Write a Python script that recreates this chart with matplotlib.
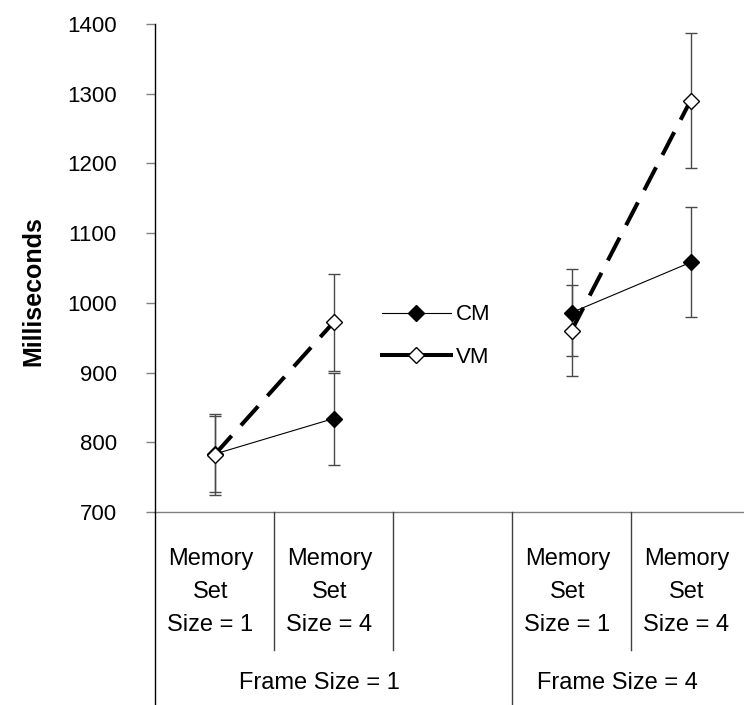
import numpy as np
import matplotlib
matplotlib.use("Agg")
import matplotlib.pyplot as plt
from matplotlib import transforms
from matplotlib.lines import Line2D

plt.rcParams["font.family"] = ["Liberation Sans", "DejaVu Sans"]
plt.rcParams["lines.scale_dashes"] = False

# Condition labels (slot 3 is an empty spacer between the two frame sizes)
categories = ["Memory\nSet\nSize = 1", "Memory\nSet\nSize = 4", "",
              "Memory\nSet\nSize = 1", "Memory\nSet\nSize = 4"]
groups = ["Frame Size = 1", "Frame Size = 4"]
group_spans = [(0, 3), (3, 5)]  # category index ranges covered by each group

# Mean response times (ms) and error bar half-widths
cm_values = [783, 834, np.nan, 986, 1058]
cm_errors = [55, 66, np.nan, 62, 79]
vm_values = [782, 972, np.nan, 960, 1290]
vm_errors = [58, 70, np.nan, 65, 97]

y_ticks = [700, 800, 900, 1000, 1100, 1200, 1300, 1400]

W, H = 744, 705
fig = plt.figure(figsize=(W / 100, H / 100), dpi=100)
ax = fig.add_axes([155 / W, 1 - 512 / H, 589 / W, (512 - 24) / H])

x = np.arange(1, len(categories) + 1)
err_color = "#4a4a4a"

ax.errorbar(x, cm_values, yerr=cm_errors, fmt="none", ecolor=err_color,
            elinewidth=1, capsize=4, capthick=1, zorder=2)
ax.errorbar(x, vm_values, yerr=vm_errors, fmt="none", ecolor=err_color,
            elinewidth=1, capsize=4, capthick=1, zorder=2)

ax.plot(x, cm_values, color="black", lw=0.8, marker="D", ms=8,
        mfc="black", mec="black", mew=1, zorder=3)
ax.plot(x, vm_values, color="black", lw=2.9, linestyle=(0, (18.5, 10)),
        dash_capstyle="butt", marker="D", ms=8, mfc="white", mec="black",
        mew=1, zorder=4)

ax.set_xlim(0.5, 0.5 + 589 / 119)
ax.set_ylim(700, 1400)
ax.set_yticks(y_ticks)
ax.set_yticklabels([str(v) for v in y_ticks], fontsize=16)
ax.tick_params(axis="y", direction="out", length=6.5, width=1,
               color="#808080", pad=21)
ax.tick_params(axis="x", length=0, labelbottom=False)

for side in ["top", "right"]:
    ax.spines[side].set_visible(False)
ax.spines["left"].set_color("black")
ax.spines["left"].set_linewidth(1)
ax.spines["bottom"].set_color("#808080")
ax.spines["bottom"].set_linewidth(1)

# Y-axis title
fig.text(33 / W, 1 - 291 / H, "Milliseconds", rotation=90, fontsize=18,
         fontweight="bold", ha="center", va="center")

# Legend
handles = [
    Line2D([], [], color="black", lw=0.8, marker="D", ms=8, mfc="black",
           mec="black"),
    Line2D([], [], color="black", lw=2.9, marker="D", ms=8, mfc="white",
           mec="black"),
]
fig.legend(handles, ["CM", "VM"], loc="center left",
           bbox_to_anchor=(382 / W, 1 - 336 / H), bbox_transform=fig.transFigure,
           frameon=False, fontsize=16, handlelength=3.1, handletextpad=0.22,
           labelspacing=0.95, borderpad=0, borderaxespad=0)

# Multi-level category axis
trans = transforms.blended_transform_factory(ax.transData, fig.transFigure)
axis_bottom = 1 - 512 / H
level1_bottom = 1 - 650 / H
sep_color = "#404040"

edges = np.arange(0.5, len(categories) + 0.5)
group_edges = [edges[a] for a, _ in group_spans]
for e in edges[1:]:
    bottom = 0 if e in group_edges else level1_bottom
    fig.add_artist(Line2D([e, e], [axis_bottom, bottom], transform=trans,
                          color=sep_color, lw=1))
fig.add_artist(Line2D([edges[0], edges[0]], [axis_bottom, 0], transform=trans,
                      color="black", lw=1))

cat_offset = trans + transforms.ScaledTranslation(-0.04, 0, fig.dpi_scale_trans)
for xi, label in zip(x, categories):
    if label:
        fig.text(xi, 1 - 592 / H, label, transform=cat_offset, fontsize=17,
                 ha="center", va="center", linespacing=1.62,
                 multialignment="center")

grp_offset = trans + transforms.ScaledTranslation(-0.14, 0, fig.dpi_scale_trans)
for (a, b), label in zip(group_spans, groups):
    gx = (edges[a] + a + 0.5 + (b - a)) / 2
    fig.text(gx, 1 - 683 / H, label, transform=grp_offset, fontsize=17,
             ha="center", va="center")

fig.savefig("out.png", dpi=100)
